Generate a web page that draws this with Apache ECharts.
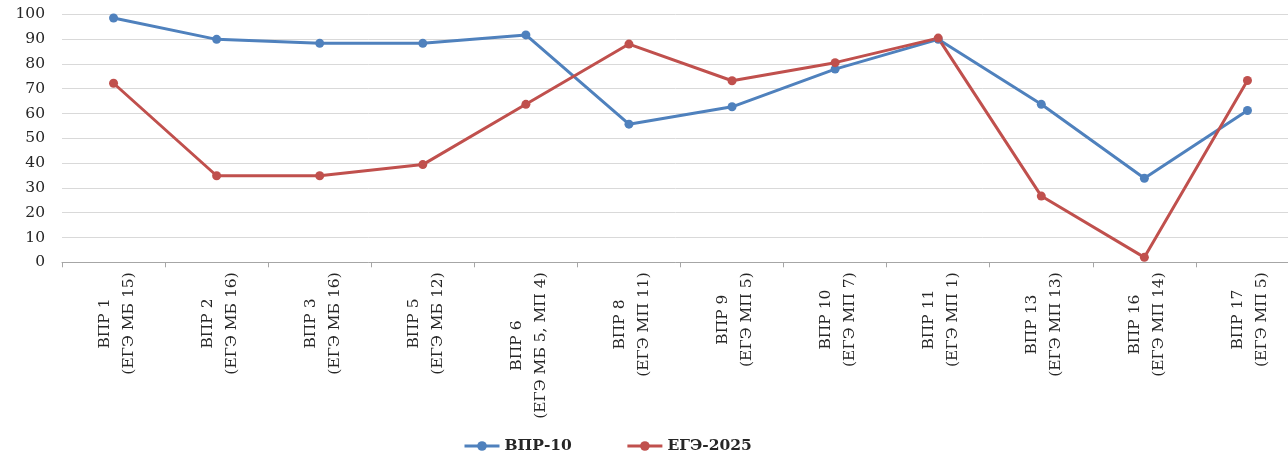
<!DOCTYPE html>
<html>
<head>
<meta charset="utf-8">
<script src="https://cdn.jsdelivr.net/npm/echarts@6/dist/echarts.min.js"></script>
<style>
html,body{margin:0;padding:0;background:#fff;}
#c{width:1288px;height:456px;}
</style>
</head>
<body>
<div id="c"></div>
<script>
var categories = ['ВПР 1\n(ЕГЭ МБ 15)', 'ВПР 2\n(ЕГЭ МБ 16)', 'ВПР 3\n(ЕГЭ МБ 16)', 'ВПР 5\n(ЕГЭ МБ 12)', 'ВПР 6\n(ЕГЭ МБ 5, МП 4)', 'ВПР 8\n(ЕГЭ МП 11)', 'ВПР 9\n(ЕГЭ МП 5)', 'ВПР 10\n(ЕГЭ МП 7)', 'ВПР 11\n(ЕГЭ МП 1)', 'ВПР 13\n(ЕГЭ МП 13)', 'ВПР 16\n(ЕГЭ МП 14)', 'ВПР 17\n(ЕГЭ МП 5)'];
var vpr10 = [98.5, 89.9, 88.3, 88.3, 91.7, 55.7, 62.7, 77.9, 89.9, 63.7, 33.9, 61.2];
var ege2025 = [72.2, 34.9, 34.9, 39.4, 63.7, 88.0, 73.2, 80.5, 90.4, 26.7, 2.0, 73.3];
var seriesNames = ['ВПР-10', 'ЕГЭ-2025'];
var yTicks = {min: 0, max: 100, interval: 10};

var FONT = 'DejaVu Serif';
var chart = echarts.init(document.getElementById('c'), null, {renderer: 'canvas'});
chart.setOption({
  animation: false,
  backgroundColor: '#ffffff',
  grid: {left: 62, top: 14.3, width: 1237, height: 248, containLabel: false, outerBoundsMode: 'none'},
  legend: {
    left: 458, top: 433,
    itemWidth: 35, itemHeight: 12, itemGap: 54,
    lineStyle: {width: 3},
    textStyle: {fontFamily: FONT, fontWeight: 'bold', fontSize: 15.5, color: '#262626'},
    data: seriesNames
  },
  xAxis: {
    type: 'category',
    data: categories,
    boundaryGap: true,
    axisLine: {lineStyle: {color: '#A6A6A6', width: 1}},
    axisTick: {show: true, length: 5, interval: 0, lineStyle: {color: '#A6A6A6'}},
    axisLabel: {
      interval: 0, rotate: 90, margin: 10,
      padding: [6, 0, 0, 0],
      formatter: function (v) { return v.split('\n').map(function (s) { return '{c|' + s + '}'; }).join('\n'); },
      rich: {c: {align: 'center', fontFamily: FONT, fontSize: 15.5, lineHeight: 24, color: '#262626'}}
    }
  },
  yAxis: {
    type: 'value',
    min: yTicks.min, max: yTicks.max, interval: yTicks.interval,
    axisLine: {show: false},
    axisTick: {show: false},
    splitLine: {lineStyle: {color: '#D9D9D9', width: 1}},
    axisLabel: {margin: 17, fontFamily: FONT, fontSize: 15.5, color: '#262626'}
  },
  series: [
    {name: seriesNames[0], type: 'line', data: vpr10, symbol: 'circle', symbolSize: 9,
     itemStyle: {color: '#4F81BD'}, lineStyle: {color: '#4F81BD', width: 3}},
    {name: seriesNames[1], type: 'line', data: ege2025, symbol: 'circle', symbolSize: 9,
     itemStyle: {color: '#C0504D'}, lineStyle: {color: '#C0504D', width: 3}}
  ]
});
</script>
</body>
</html>
